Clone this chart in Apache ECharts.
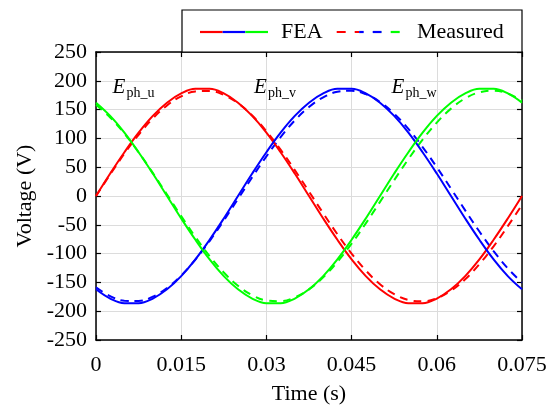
<!DOCTYPE html>
<html>
<head>
<meta charset="utf-8">
<script src="https://cdn.jsdelivr.net/npm/echarts@6/dist/echarts.min.js"></script>
<style>html,body{margin:0;padding:0;background:#fff;}#c{width:557px;height:410px;}</style>
</head>
<body>
<div id="c"></div>
<script>
const time = [0,0.0025,0.005,0.0075,0.01,0.0125,0.015,0.0175,0.02,0.0225,0.025,0.0275,0.03,0.0325,0.035,0.0375,0.04,0.0425,0.045,0.0475,0.05,0.0525,0.055,0.0575,0.06,0.0625,0.065,0.0675,0.07,0.0725,0.075];
const feaU = [0,39,76,110,139,162,178,186,186,178,162,139,110,76,39,0,-39,-76,-110,-139,-162,-178,-186,-186,-178,-162,-139,-110,-76,-39,0];
const feaV = [-162,-178,-186,-186,-178,-162,-139,-110,-76,-39,0,39,76,110,139,162,178,186,186,178,162,139,110,76,39,0,-39,-76,-110,-139,-162];
const feaW = [162,139,110,76,39,0,-39,-76,-110,-139,-162,-178,-186,-186,-178,-162,-139,-110,-76,-39,0,39,76,110,139,162,178,186,186,178,162];
const measU = [0,37.5,73.5,106.3,134.6,157.2,173.1,181.6,182.4,175.4,161.0,139.7,112.5,80.5,45.0,7.7,-30.0,-66.4,-100.0,-129.3,-153.1,-170.4,-180.5,-182.9,-177.4,-164.5,-144.5,-118.4,-87.3,-52.4,-15.3];
const measV = [-158.5,-173.9,-181.9,-182.2,-174.7,-159.7,-138.0,-110.4,-78.2,-42.5,-5.1,32.5,68.8,102.1,131.1,154.5,171.3,180.9,182.7,176.8,163.3,142.9,116.4,85.0,50.0,12.8,-25.0,-61.6,-95.7,-125.6,-150.3];
const measW = [158.5,136.3,108.4,75.8,40.1,2.6,-35.0,-71.2,-104.3,-132.9,-155.9,-172.2,-181.3,-182.6,-176.1,-162.2,-141.3,-114.3,-82.8,-47.5,-10.2,27.5,64.0,97.8,127.5,151.7,169.5,180.0,182.9,178.0,165.6];
const xTickLabels = ['0','0.015','0.03','0.045','0.06','0.075'];
const yTickLabels = ['-250','-200','-150','-100','-50','0','50','100','150','200','250'];
const phaseNames = ['ph_u','ph_v','ph_w'];
const legendNames = ['FEA','Measured'];

const RED = '#ff0000', BLUE = '#0000ff', GREEN = '#00ff00';
const FONT = '"Liberation Serif", "Times New Roman", serif';
const FS = 22;

function pairs(vals){ return time.map((t,i)=>[t, vals[i]]); }

const chart = echarts.init(document.getElementById('c'));

const axisLineStyle = {color:'#000', width:1.5};
const tickStyle = {show:true, inside:true, length:5, lineStyle:{color:'#000', width:1.2}};

function solid(name, data, color){
  return {name, type:'line', data:pairs(data), smooth:0.4, showSymbol:false, symbol:'none',
    lineStyle:{color, width:2}, itemStyle:{color}, z:3, animation:false};
}
function dashed(name, data, color){
  return {name, type:'line', data:pairs(data), smooth:0.4, showSymbol:false, symbol:'none',
    lineStyle:{color, width:2, type:[8,6]}, itemStyle:{color}, z:2, animation:false};
}

// legend graphics
const lx0 = 200, lx1 = 268, ly = 32;
const mx0 = 336.7, mx1 = 404;
const seg = (mx1-mx0)/3;
const legendGraphics = [
  {type:'rect', shape:{x:182, y:10, width:340, height:42}, style:{fill:'#fff', stroke:'#000', lineWidth:1.2}, z:10},
  {type:'line', shape:{x1:lx0, y1:ly, x2:lx0+(lx1-lx0)/3, y2:ly}, style:{stroke:RED, lineWidth:2.2}, z:11},
  {type:'line', shape:{x1:lx0+(lx1-lx0)/3, y1:ly, x2:lx0+2*(lx1-lx0)/3, y2:ly}, style:{stroke:BLUE, lineWidth:2.2}, z:11},
  {type:'line', shape:{x1:lx0+2*(lx1-lx0)/3, y1:ly, x2:lx1, y2:ly}, style:{stroke:GREEN, lineWidth:2.2}, z:11},
  {type:'text', x:281, y:ly, style:{text:legendNames[0], font:FS+'px '+FONT, fill:'#000', align:'left', verticalAlign:'middle'}, z:11},
  {type:'line', shape:{x1:mx0, y1:ly, x2:mx0+seg, y2:ly}, style:{stroke:RED, lineWidth:2.2, lineDash:[9,9], lineDashOffset:0}, z:11},
  {type:'line', shape:{x1:mx0+seg, y1:ly, x2:mx0+2*seg, y2:ly}, style:{stroke:BLUE, lineWidth:2.2, lineDash:[9,9], lineDashOffset:seg%18}, z:11},
  {type:'line', shape:{x1:mx0+2*seg, y1:ly, x2:mx1, y2:ly}, style:{stroke:GREEN, lineWidth:2.2, lineDash:[9,9], lineDashOffset:(2*seg)%18}, z:11},
  {type:'text', x:417, y:ly, style:{text:legendNames[1], font:FS+'px '+FONT, fill:'#000', align:'left', verticalAlign:'middle'}, z:11}
];
// phase annotations
const annX = [112.5, 254, 391.5];
const annGraphics = [];
annX.forEach((x,i)=>{
  annGraphics.push({type:'text', x:x, y:87, style:{text:'E', font:'italic 21px '+FONT, fill:'#000', align:'left', verticalAlign:'middle'}, z:12});
  annGraphics.push({type:'text', x:x+14, y:93, style:{text:phaseNames[i], font:'14px '+FONT, fill:'#000', align:'left', verticalAlign:'middle'}, z:12});
});

const option = {
  animation:false,
  backgroundColor:'#fff',
  grid:{left:96, right:35, top:52, bottom:67},
  xAxis:[
    {type:'value', position:'bottom', min:0, max:0.075, interval:0.015,
     axisLine:{show:true, onZero:false, lineStyle:axisLineStyle},
     axisTick:tickStyle,
     axisLabel:{show:true, margin:14, color:'#000', fontSize:FS, fontFamily:FONT,
       formatter:(v)=>xTickLabels[Math.round(v/0.015)]},
     splitLine:{show:true, lineStyle:{color:'#dcdcdc', width:1}},
     name:'Time (s)', nameLocation:'middle', nameGap:43,
     nameTextStyle:{color:'#000', fontSize:FS, fontFamily:FONT}},
    {type:'value', position:'top', min:0, max:0.075, interval:0.015,
     axisLine:{show:true, onZero:false, lineStyle:axisLineStyle},
     axisTick:tickStyle, axisLabel:{show:false}, splitLine:{show:false}}
  ],
  yAxis:[
    {type:'value', position:'left', min:-250, max:250, interval:50,
     axisLine:{show:true, onZero:false, lineStyle:axisLineStyle},
     axisTick:tickStyle,
     axisLabel:{show:true, margin:9, color:'#000', fontSize:FS, fontFamily:FONT,
       formatter:(v)=>yTickLabels[Math.round((v+250)/50)]},
     splitLine:{show:true, lineStyle:{color:'#dcdcdc', width:1}},
     name:'Voltage (V)', nameLocation:'middle', nameGap:58, nameRotate:90,
     nameTextStyle:{color:'#000', fontSize:FS, fontFamily:FONT}},
    {type:'value', position:'right', min:-250, max:250, interval:50,
     axisLine:{show:true, onZero:false, lineStyle:axisLineStyle},
     axisTick:tickStyle, axisLabel:{show:false}, splitLine:{show:false}}
  ],
  series:[
    dashed('Measured u', measU, RED),
    dashed('Measured v', measV, BLUE),
    dashed('Measured w', measW, GREEN),
    solid('FEA u', feaU, RED),
    solid('FEA v', feaV, BLUE),
    solid('FEA w', feaW, GREEN)
  ],
  graphic:legendGraphics.concat(annGraphics)
};
chart.setOption(option);
</script>
</body>
</html>
